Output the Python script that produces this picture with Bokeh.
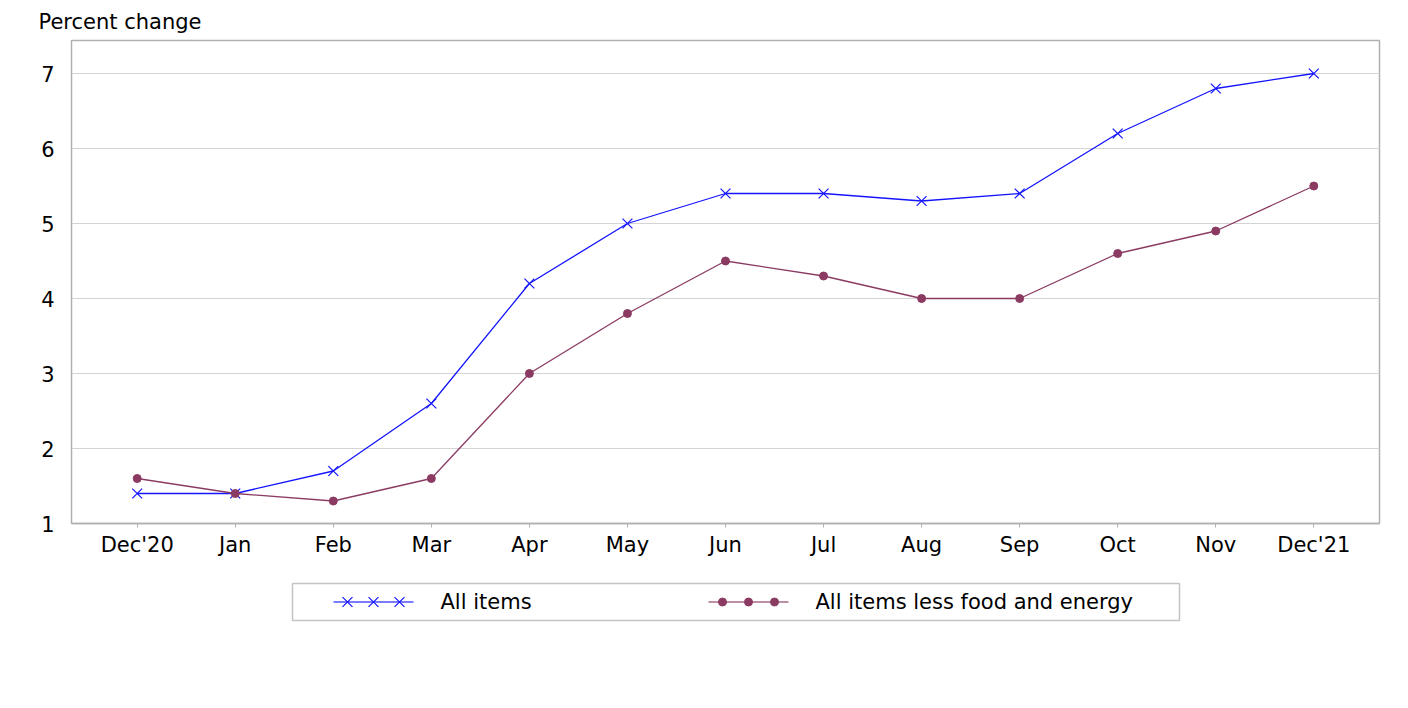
from bokeh.plotting import figure
from bokeh.models import Range1d, FixedTicker
from bokeh.layouts import column
from bokeh.core.properties import value
from bokeh.embed import file_html
from bokeh.resources import INLINE

# ---- data ----
months = ["Dec'20", "Jan", "Feb", "Mar", "Apr", "May", "Jun", "Jul", "Aug", "Sep", "Oct", "Nov", "Dec'21"]
all_items = [1.4, 1.4, 1.7, 2.6, 4.2, 5.0, 5.4, 5.4, 5.3, 5.4, 6.2, 6.8, 7.0]
core_items = [1.6, 1.4, 1.3, 1.6, 3.0, 3.8, 4.5, 4.3, 4.0, 4.0, 4.6, 4.9, 5.5]
y_ticks = [1, 2, 3, 4, 5, 6, 7]
series_names = ["All items", "All items less food and energy"]

BLUE = "#1414ff"
PLUM = "#8b3a62"
FONT = "DejaVu Sans"
FS = "21px"
FRAME_L, FRAME_R = 71, 1379

x = list(range(len(months)))

p = figure(width=1408, height=570, output_backend="svg", toolbar_location=None,
           x_range=Range1d(-0.67, len(months) - 1 + 0.67), y_range=Range1d(1, 7.44),
           min_border_left=FRAME_L, min_border_right=1408 - FRAME_R, min_border_top=40, min_border_bottom=47)

p.title.text = "Percent change"
p.title.text_font = FONT
p.title.text_font_size = FS
p.title.text_font_style = "normal"
p.title.text_color = "black"
p.title.text_line_height = 1.0
p.title.align = "left"
p.title.offset = -33
p.title.standoff = 14

p.outline_line_color = "#b0b0b0"
p.outline_line_width = 1.5
p.xgrid.visible = False
p.ygrid.ticker = FixedTicker(ticks=y_ticks)
p.ygrid.grid_line_color = "#d4d4d4"
p.ygrid.grid_line_width = 1

p.yaxis.ticker = FixedTicker(ticks=y_ticks)
p.yaxis.axis_line_color = None
p.yaxis.major_tick_line_color = None
p.yaxis.minor_tick_line_color = None
p.yaxis.major_label_standoff = 11
p.yaxis.major_label_text_font = FONT
p.yaxis.major_label_text_font_size = FS
p.yaxis.major_label_text_color = "black"

p.xaxis.ticker = FixedTicker(ticks=x)
p.xaxis.major_label_overrides = {i: m for i, m in zip(x, months)}
p.xaxis.axis_line_color = "#b0b0b0"
p.xaxis.axis_line_width = 1.5
p.xaxis.major_tick_line_color = "#b0b0b0"
p.xaxis.major_tick_out = 4
p.xaxis.major_tick_in = 0
p.xaxis.minor_tick_line_color = None
p.xaxis.major_label_standoff = 5
p.xaxis.major_label_text_font = FONT
p.xaxis.major_label_text_font_size = FS
p.xaxis.major_label_text_color = "black"

p.line(x, all_items, line_color=BLUE, line_width=1.3)
p.scatter(x, all_items, marker="x", size=14, line_color=BLUE, line_width=1.2)
p.line(x, core_items, line_color=PLUM, line_width=1.3)
p.scatter(x, core_items, marker="circle", size=8, fill_color=PLUM, line_color=PLUM)

# ---- legend panel (its frame is aligned with the main frame by the column layout) ----
lg = figure(width=1408, height=138, output_backend="svg", toolbar_location=None,
            x_range=Range1d(FRAME_L, FRAME_R), y_range=Range1d(138, 0),
            min_border_left=FRAME_L, min_border_right=1408 - FRAME_R, min_border_top=0, min_border_bottom=0)
lg.axis.visible = False
lg.grid.visible = False
lg.outline_line_color = None

lg.quad(left=[292], right=[1179], top=[13], bottom=[50], fill_color=None,
        line_color="#c4c4c4", line_width=1.5)
yc = 31.5
for (x0, color, marker, size, name) in [(333, BLUE, "x", 14, series_names[0]),
                                         (708, PLUM, "circle", 8, series_names[1])]:
    lg.line([x0, x0 + 80], [yc, yc], line_color=color, line_width=1.5, line_alpha=0.75)
    mx = [x0 + 14, x0 + 40, x0 + 66]
    if marker == "x":
        lg.scatter(mx, [yc] * 3, marker="x", size=size, line_color=color, line_width=1.2)
    else:
        lg.scatter(mx, [yc] * 3, marker="circle", size=size, fill_color=color, line_color=color)
    lg.text([x0 + 107], [yc], text=[name], text_font=value(FONT), text_font_size=FS,
            text_baseline="middle", text_align="left", text_color="black")

layout = column(p, lg, spacing=0)
open("out.html", "w").write(file_html(layout, INLINE))
